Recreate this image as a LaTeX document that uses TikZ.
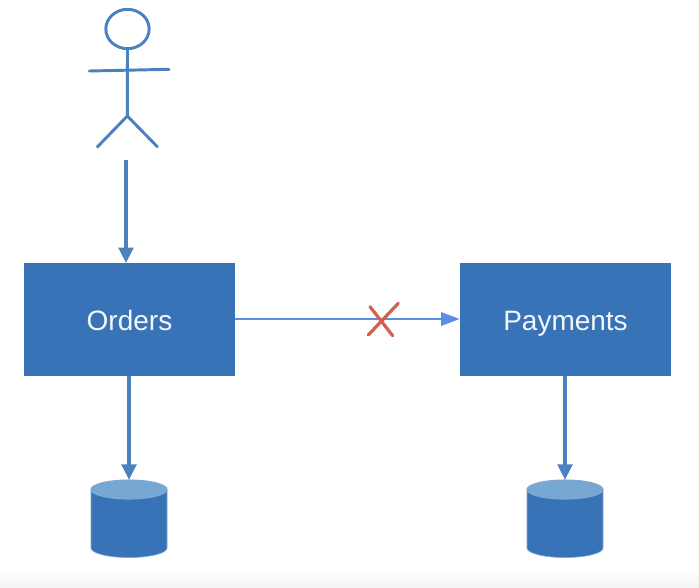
\documentclass[tikz,border=0pt]{standalone}
\usepackage{fontspec}
\setmainfont{Liberation Sans}
\usetikzlibrary{shapes.geometric,arrows.meta}
\definecolor{boxblue}{HTML}{3773B6}
\definecolor{figblue}{HTML}{4A82C0}
\definecolor{linkblue}{HTML}{5C8EE6}
\definecolor{topblue}{HTML}{77A8D3}
\definecolor{crossred}{HTML}{D0604F}
\tikzset{
  x=0.75pt,y=-0.75pt,
  svcbox/.style={draw=none,fill=boxblue,text=white!94!boxblue,minimum width=158.25pt,minimum height=84.75pt,inner sep=0pt,text height=19pt,text depth=2pt,font=\fontsize{21}{25}\selectfont},
  dbanchor/.style={draw=none,fill=none,minimum width=57pt,minimum height=57.75pt,inner sep=0pt},
  dbbody/.style={fill=boxblue,draw=figblue!70!white,line width=0.5pt},
  dbtop/.style={fill=topblue,draw=figblue!70!white,line width=0.8pt},
  figline/.style={draw=figblue,line width=2.2pt,line cap=round},
  flow/.style={draw=figblue,line width=2.4pt,-{Triangle[length=11.5pt,width=11pt]}},
  thinflow/.style={draw=linkblue,line width=1.7pt,-{Triangle[length=14pt,width=10pt]}},
  crossline/.style={draw=crossred,line width=2.4pt,line cap=round},
}
\begin{document}
\begin{tikzpicture}
\useasboundingbox (0,0) rectangle (699,587);
\fill[white] (0,0) rectangle (699,587);
\shade[top color=white,bottom color=black!4] (0,570) rectangle (699,587);
% actor
\node[ellipse,draw=figblue,line width=2.2pt,fill=none,minimum width=32.5pt,minimum height=29.5pt,inner sep=0pt] (head) at (127.5,29) {};
\coordinate (hip) at (127.3,116);
\coordinate (armL) at (89.3,71);
\coordinate (armR) at (169,69.3);
\coordinate (legL) at (97.3,147);
\coordinate (legR) at (157.3,146.7);
\draw[figline] (head.south) -- (hip);
\draw[figline] (armL) -- (armR);
\draw[figline] (legL) -- (hip) -- (legR);
% boxes
\node[svcbox] (orders) at (129.5,319.5) {Orders};
\node[svcbox] (payments) at (565.5,319.5) {Payments};
% databases
\node[dbanchor] (db1) at (129,518.5) {};
\node[dbanchor] (db2) at (565,518.5) {};
\foreach \cx in {129,565}{
  \draw[dbbody] (\cx-38,489.5) -- (\cx-38,548) arc[start angle=180,end angle=0,x radius=38,y radius=9.5] -- (\cx+38,489.5) -- cycle;
  \draw[dbtop] (\cx,489.5) ellipse[x radius=38,y radius=9.5];
}
% connectors
\coordinate (actorfoot) at (126,160);
\coordinate (ordersin) at (126,263);
\coordinate (ordersout) at (orders.east |- 0,319);
\coordinate (paymentsin) at (payments.west |- 0,319);
\draw[flow] (actorfoot) -- (ordersin);
\draw[thinflow] (ordersout) -- (paymentsin);
\draw[flow] (orders.south -| db1.north) -- (db1.north);
\draw[flow] (payments.south -| db2.north) -- (db2.north);
% cross
\coordinate (xa) at (370,306.7);
\coordinate (xb) at (392.7,335.7);
\coordinate (xc) at (398.3,303.3);
\coordinate (xd) at (368.3,335);
\draw[crossline] (xa) -- (xb);
\draw[crossline] (xc) -- (xd);
\end{tikzpicture}
\end{document}
